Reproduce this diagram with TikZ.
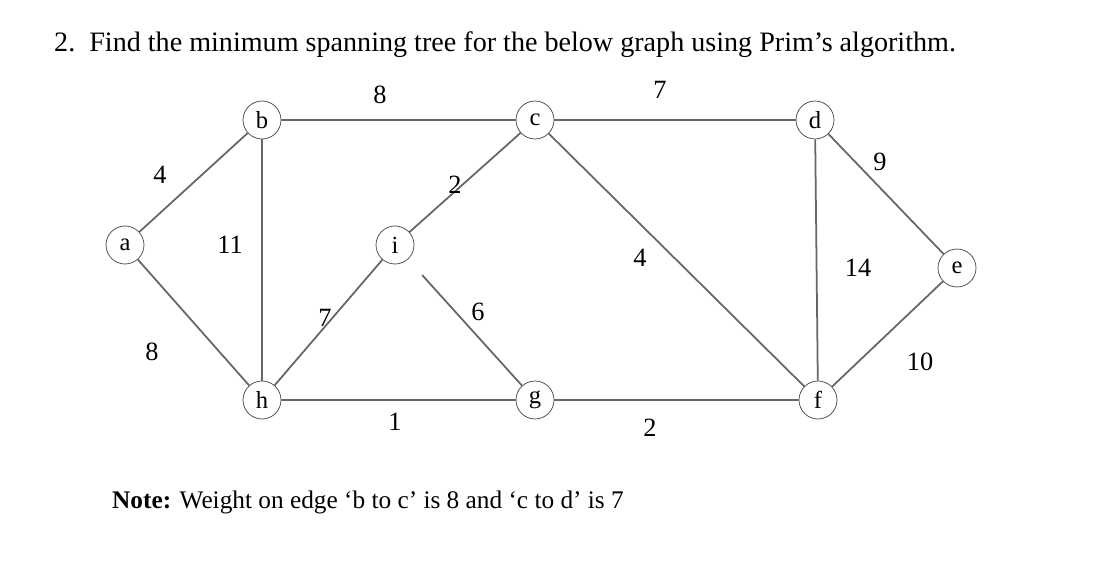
\documentclass[tikz,border=0pt]{standalone}
\usepackage{fontspec}
\setmainfont{Liberation Serif}
\begin{document}
\begin{tikzpicture}[x=0.02cm,y=-0.02cm,
  v/.style={draw=black!75,circle,minimum size=38*0.02cm,inner sep=0pt,font=\fontsize{14}{14}\selectfont},
  e/.style={draw=black!60,line width=1pt},
  w/.style={font=\fontsize{15}{15}\selectfont}]
\fill[white] (0,0) rectangle (1108,564);
\node[anchor=west,font=\fontsize{16}{16}\selectfont] (t) at (48,45) {2.\ \ Find the minimum spanning tree for the below graph using Prim’s algorithm.};
\node (a) [v] at (125,245) {a};
\node (b) [v] at (262,120) {b};
\node (c) [v] at (535,120) {c};
\node (d) [v] at (815,120) {d};
\node (i) [v] at (395,245) {i};
\node (e) [v] at (957,268) {e};
\node (h) [v] at (262,400) {h};
\node (g) [v] at (535,400) {g};
\node (f) [v] at (818,400) {f};
\draw[e] (a)--(b); \draw[e] (a)--(h); \draw[e] (b)--(c); \draw[e] (b)--(h);
\draw[e] (c)--(d); \draw[e] (c)--(i); \draw[e] (c)--(f); \draw[e] (d)--(f);
\draw[e] (d)--(e); \draw[e] (e)--(f); \draw[e] (h)--(i); \draw[e,shorten <=12pt] (i)--(g);
\draw[e] (h)--(g); \draw[e] (g)--(f);
\node[w] (w1) at (380,95) {8};
\node[w] (w2) at (660,90) {7};
\node[w] (w3) at (160,175) {4};
\node[w] (w4) at (230,245) {11};
\node[w] (w5) at (455,185) {2};
\node[w] (w6) at (640,258) {4};
\node[w] (w7) at (858,268) {14};
\node[w] (w8) at (880,162) {9};
\node[w] (w9) at (152,352) {8};
\node[w] (w10) at (325,318) {7};
\node[w] (w11) at (478,312) {6};
\node[w] (w12) at (920,362) {10};
\node[w] (w13) at (395,422) {1};
\node[w] (w14) at (650,428) {2};
\node[anchor=west,font=\fontsize{14.4}{14.4}\selectfont] (n) at (106,502) {\textbf{Note:} Weight on edge ‘b to c’ is 8 and ‘c to d’ is 7};
\end{tikzpicture}
\end{document}
